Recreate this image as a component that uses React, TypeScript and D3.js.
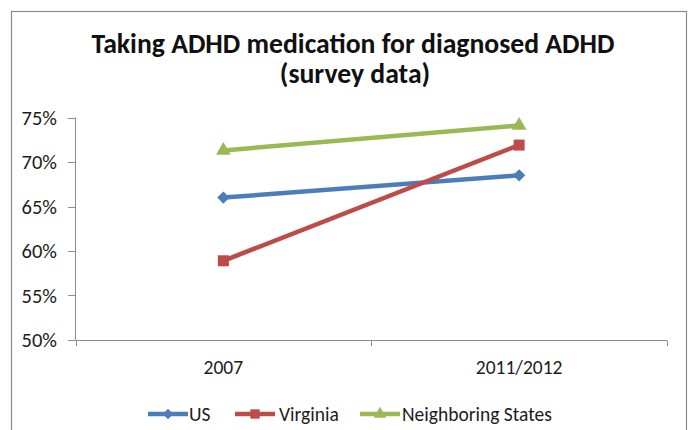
import React from "react";
import * as d3 from "d3";

// Share of children with diagnosed ADHD who take medication, by survey wave
const categories = ["2007", "2011/2012"];
const usValues = [0.66, 0.685];
const virginiaValues = [0.589, 0.719];
const neighboringValues = [0.713, 0.741];
const yTicks = [0.5, 0.55, 0.6, 0.65, 0.7, 0.75];
const seriesNames = ["US", "Virginia", "Neighboring States"];
const titleLines = ["Taking ADHD medication for diagnosed ADHD", "(survey data)"];

const W = 689;
const H = 430;
const FONT = "Carlito, Calibri, Lato, 'Open Sans', sans-serif";
const AXIS = "#8c8c8c";
const INK = "#1c1c1c";

const series = [
  { name: seriesNames[0], values: usValues, color: "#4a7ebb", symbol: "diamond" },
  { name: seriesNames[1], values: virginiaValues, color: "#be4b48", symbol: "square" },
  { name: seriesNames[2], values: neighboringValues, color: "#98b954", symbol: "triangle" },
];

function markerPath(kind: string, scale = 1): string {
  if (kind === "square") return d3.symbol(d3.symbolSquare, 121 * scale * scale)()!;
  if (kind === "triangle") return d3.symbol(d3.symbolTriangle, 95 * scale * scale)()!;
  return d3.symbol(d3.symbolSquare, 76 * scale * scale)()!;
}

export default function App() {
  const x = d3.scaleBand<string>().domain(categories).range([75.5, 667]);
  const y = d3.scaleLinear().domain([0.5, 0.75]).range([340, 117.5]);
  const fmt = d3.format(".0%");
  const line = d3
    .line<number>()
    .x((_, i) => x(categories[i])! + x.bandwidth() / 2)
    .y((d) => y(d));

  const xBoundaries = [...categories.map((c) => x(c)!), x.range()[1]];
  const legendItems = [
    { start: 148, textX: 189 },
    { start: 235, textX: 279 },
    { start: 360, textX: 402 },
  ];
  const legendY = 414;

  return (
    <svg
      width={W}
      height={H}
      style={{ position: "absolute", left: 0, top: 0, background: "#fff" }}
      fontFamily={FONT}
    >
      <rect x={0} y={0} width={W} height={H} fill="#fff" />
      <rect x={11.5} y={11.5} width={675} height={500} fill="none" stroke="#8a8a8a" strokeWidth={1.2} />

      {/* title */}
      <text x={353} y={53} textAnchor="middle" fontWeight="bold" fontSize={27.7} fill="#111">
        {titleLines[0]}
      </text>
      <text x={355} y={83} textAnchor="middle" fontWeight="bold" fontSize={27.7} fill="#111">
        {titleLines[1]}
      </text>

      {/* y axis */}
      <line x1={75.5} x2={75.5} y1={y(0.75)} y2={y(0.5)} stroke={AXIS} />
      {yTicks.map((t) => (
        <g key={t}>
          <line x1={68} x2={75.5} y1={Math.round(y(t)) + 0.5} y2={Math.round(y(t)) + 0.5} stroke={AXIS} />
          <text x={57} y={y(t)} dy="0.35em" textAnchor="end" fontSize={20.5} fill={INK}>
            {fmt(t)}
          </text>
        </g>
      ))}

      {/* x axis */}
      <line x1={75.5} x2={x.range()[1]} y1={340.5} y2={340.5} stroke={AXIS} />
      {xBoundaries.map((b, i) => (
        <line key={i} x1={Math.round(b) + 0.5} x2={Math.round(b) + 0.5} y1={340.5} y2={346} stroke={AXIS} />
      ))}
      {categories.map((c) => (
        <text key={c} x={x(c)! + x.bandwidth() / 2} y={374} textAnchor="middle" fontSize={19.5} fill={INK}>
          {c}
        </text>
      ))}

      {/* series */}
      {series.map((s) => (
        <g key={s.name}>
          <path d={line(s.values)!} fill="none" stroke={s.color} strokeWidth={4.5} strokeLinejoin="round" />
          {s.values.map((v, i) => (
            <path
              key={i}
              d={markerPath(s.symbol)}
              transform={`translate(${x(categories[i])! + x.bandwidth() / 2},${y(v)})${s.symbol === "diamond" ? " rotate(45)" : ""}`}
              fill={s.color}
            />
          ))}
        </g>
      ))}

      {/* legend */}
      {series.map((s, i) => {
        const it = legendItems[i];
        return (
          <g key={s.name}>
            <line x1={it.start} x2={it.start + 40} y1={legendY} y2={legendY} stroke={s.color} strokeWidth={4.5} />
            <path
              d={markerPath(s.symbol, 0.85)}
              transform={`translate(${it.start + 20},${legendY})${s.symbol === "diamond" ? " rotate(45)" : ""}`}
              fill={s.color}
            />
            <text x={it.textX} y={legendY} dy="0.35em" fontSize={19.5} fill={INK}>
              {s.name}
            </text>
          </g>
        );
      })}
    </svg>
  );
}
